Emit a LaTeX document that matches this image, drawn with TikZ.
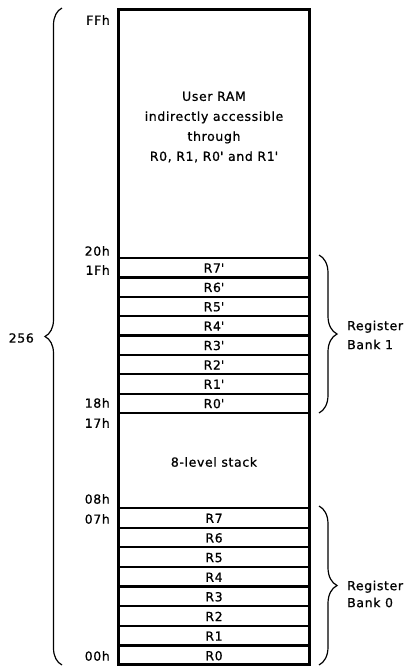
\documentclass[tikz,border=0pt]{standalone}
\usepackage{fontspec}
\setmainfont{DejaVu Sans}[LetterSpace=5,FakeBold=0.8]
\usetikzlibrary{decorations.pathreplacing}
\begin{document}
\begin{tikzpicture}[x=1pt,y=-1pt,
  outer/.style={line width=3pt},
  rowline/.style={line width=2.2pt},
  lbl/.style={font=\fontsize{12.5}{14}\selectfont, inner sep=0pt},
  addr/.style={lbl, anchor=east},
  reg/.style={lbl},
  bracestyle/.style={line width=1.2pt, decorate, decoration={brace, amplitude=#1}},
]
\useasboundingbox (0,0) rectangle (406,667);
\fill[white] (0,0) rectangle (406,667);
% outer box
\coordinate (tl) at (118,9);
\coordinate (br) at (309,664.5);
\draw[outer] (tl) rectangle (br);
% bank 1 rows (258 .. 413)
\foreach \i/\y in {0/258,1/277.4,2/296.8,3/316.1,4/335.5,5/354.9,6/374.2,7/393.6,8/413}{
  \coordinate (a\i) at (118,\y);
  \coordinate (b\i) at (309,\y);
  \draw[rowline] (a\i) -- (b\i);
}
% bank 0 rows (508 .. 665)
\foreach \i/\y in {0/508,1/527.6,2/547.3,3/566.9,4/586.5,5/606.1,6/625.8,7/645.4}{
  \coordinate (c\i) at (118,\y);
  \coordinate (d\i) at (309,\y);
  \draw[rowline] (c\i) -- (d\i);
}
% register labels bank 1
\foreach \n/\y in {7/268,6/287.4,5/306.8,4/326.1,3/345.5,2/364.9,1/384.2,0/403.6}{
  \node[reg] (rp\n) at (214,\y) {R\n\textquotesingle};
}
% register labels bank 0
\foreach \n/\y in {7/518.3,6/537.9,5/557.6,4/577.2,3/596.8,2/616.4,1/636.1,0/655.7}{
  \node[reg] (r\n) at (214,\y) {R\n};
}
% user RAM text
\node[lbl, align=center, font=\fontsize{12.5}{20}\selectfont] (ram) at (214,127)
  {User RAM\\indirectly accessible\\through\\R0, R1, R0\textquotesingle\ and R1\textquotesingle};
\node[lbl] (stack) at (214,462) {8-level stack};
% addresses
\node[addr] (aFF) at (110,20) {FFh};
\node[addr] (a20) at (110,251) {20h};
\node[addr] (a1F) at (110,270) {1Fh};
\node[addr] (a18) at (110,403) {18h};
\node[addr] (a17) at (110,423) {17h};
\node[addr] (a08) at (110,499) {08h};
\node[addr] (a07) at (110,519) {07h};
\node[addr] (a00) at (110,656) {00h};
% braces
\coordinate (lb0) at (62,665);
\coordinate (lb1) at (62,8);
\draw[bracestyle=17] (lb0) -- (lb1);
\node[lbl, anchor=east] (n256) at (34,338) {256};
\coordinate (rb0) at (319,255);
\coordinate (rb1) at (319,413);
\draw[bracestyle=18] (rb0) -- (rb1);
\node[lbl, anchor=west, align=left, font=\fontsize{12.5}{19}\selectfont] (bank1) at (347,335) {Register\\Bank 1};
\coordinate (rc0) at (319,506);
\coordinate (rc1) at (319,665);
\draw[bracestyle=18] (rc0) -- (rc1);
\node[lbl, anchor=west, align=left, font=\fontsize{12.5}{17}\selectfont] (bank0) at (347,594) {Register\\Bank 0};
\end{tikzpicture}
\end{document}
